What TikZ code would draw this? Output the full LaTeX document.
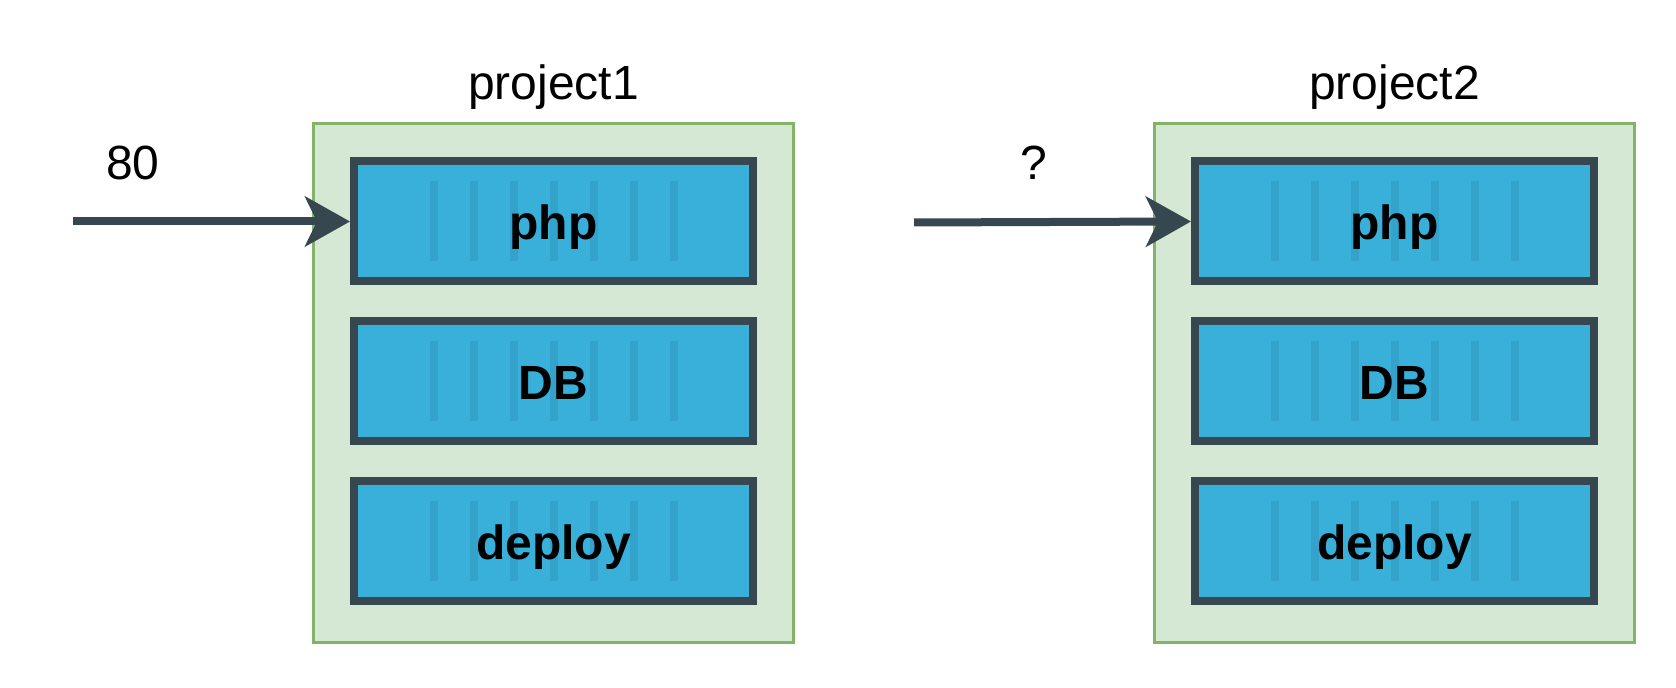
\documentclass[tikz,border=0pt]{standalone}
\usepackage{fontspec}
\setmainfont{Liberation Sans}
\usetikzlibrary{arrows.meta}

\definecolor{boxblue}{HTML}{38B0DA}
\definecolor{stripeblue}{HTML}{34A3CB}
\definecolor{slate}{HTML}{37474F}
\definecolor{projfill}{HTML}{D5E8D4}
\definecolor{projdraw}{HTML}{82B366}

\tikzset{
  project/.style={draw=projdraw,fill=projfill,line width=1.5pt,minimum width=240pt,minimum height=259.5pt},
  container/.style={draw=slate,fill=boxblue,line width=4pt,minimum width=199.5pt,minimum height=60pt,
    font=\fontsize{24}{28}\selectfont\bfseries,text height=18.5pt,text depth=0pt,
    path picture={\foreach \k in {-3,...,3}
      \fill[stripeblue] ([xshift=\k*20pt-2pt,yshift=-20pt]path picture bounding box.center) rectangle ++(4pt,40pt);}},
  label/.style={font=\fontsize{24}{28}\selectfont,anchor=base,inner sep=0pt},
  port/.style={draw=slate,line width=4pt,-{Stealth[length=22.5pt,width=25pt,inset=6pt]}}
}

\begin{document}
\begin{tikzpicture}[x=0.5pt,y=-0.5pt]
\useasboundingbox (0,0) rectangle (1676,688);
\pgfmathsetmacro{\gap}{160}
% project1
\node[project] (proj1) at (553.5,383) {};
\node[label] (title1) at (553.5,100) {project1};
\node[container] (php1) at (553.5,221.5) {php};
\node[container] (db1) at (553.5,221.5+\gap) {DB};
\node[container] (deploy1) at (553.5,221.5+2*\gap) {deploy};
% project2
\node[project] (proj2) at (1394.5,383) {};
\node[label] (title2) at (1394.5,100) {project2};
\node[container] (php2) at (1394.5,221.5) {php};
\node[container] (db2) at (1394.5,221.5+\gap) {DB};
\node[container] (deploy2) at (1394.5,221.5+2*\gap) {deploy};
% ports
\coordinate (in1) at (73,221.5);
\coordinate (in2) at (914,222.5);
\node[label] (port1) at (133,180) {80};
\node[label] (port2) at (1034,180) {?};
\draw[port] (in1) -- (php1.west);
\draw[port] (in2) -- (php2.west);
\end{tikzpicture}
\end{document}
